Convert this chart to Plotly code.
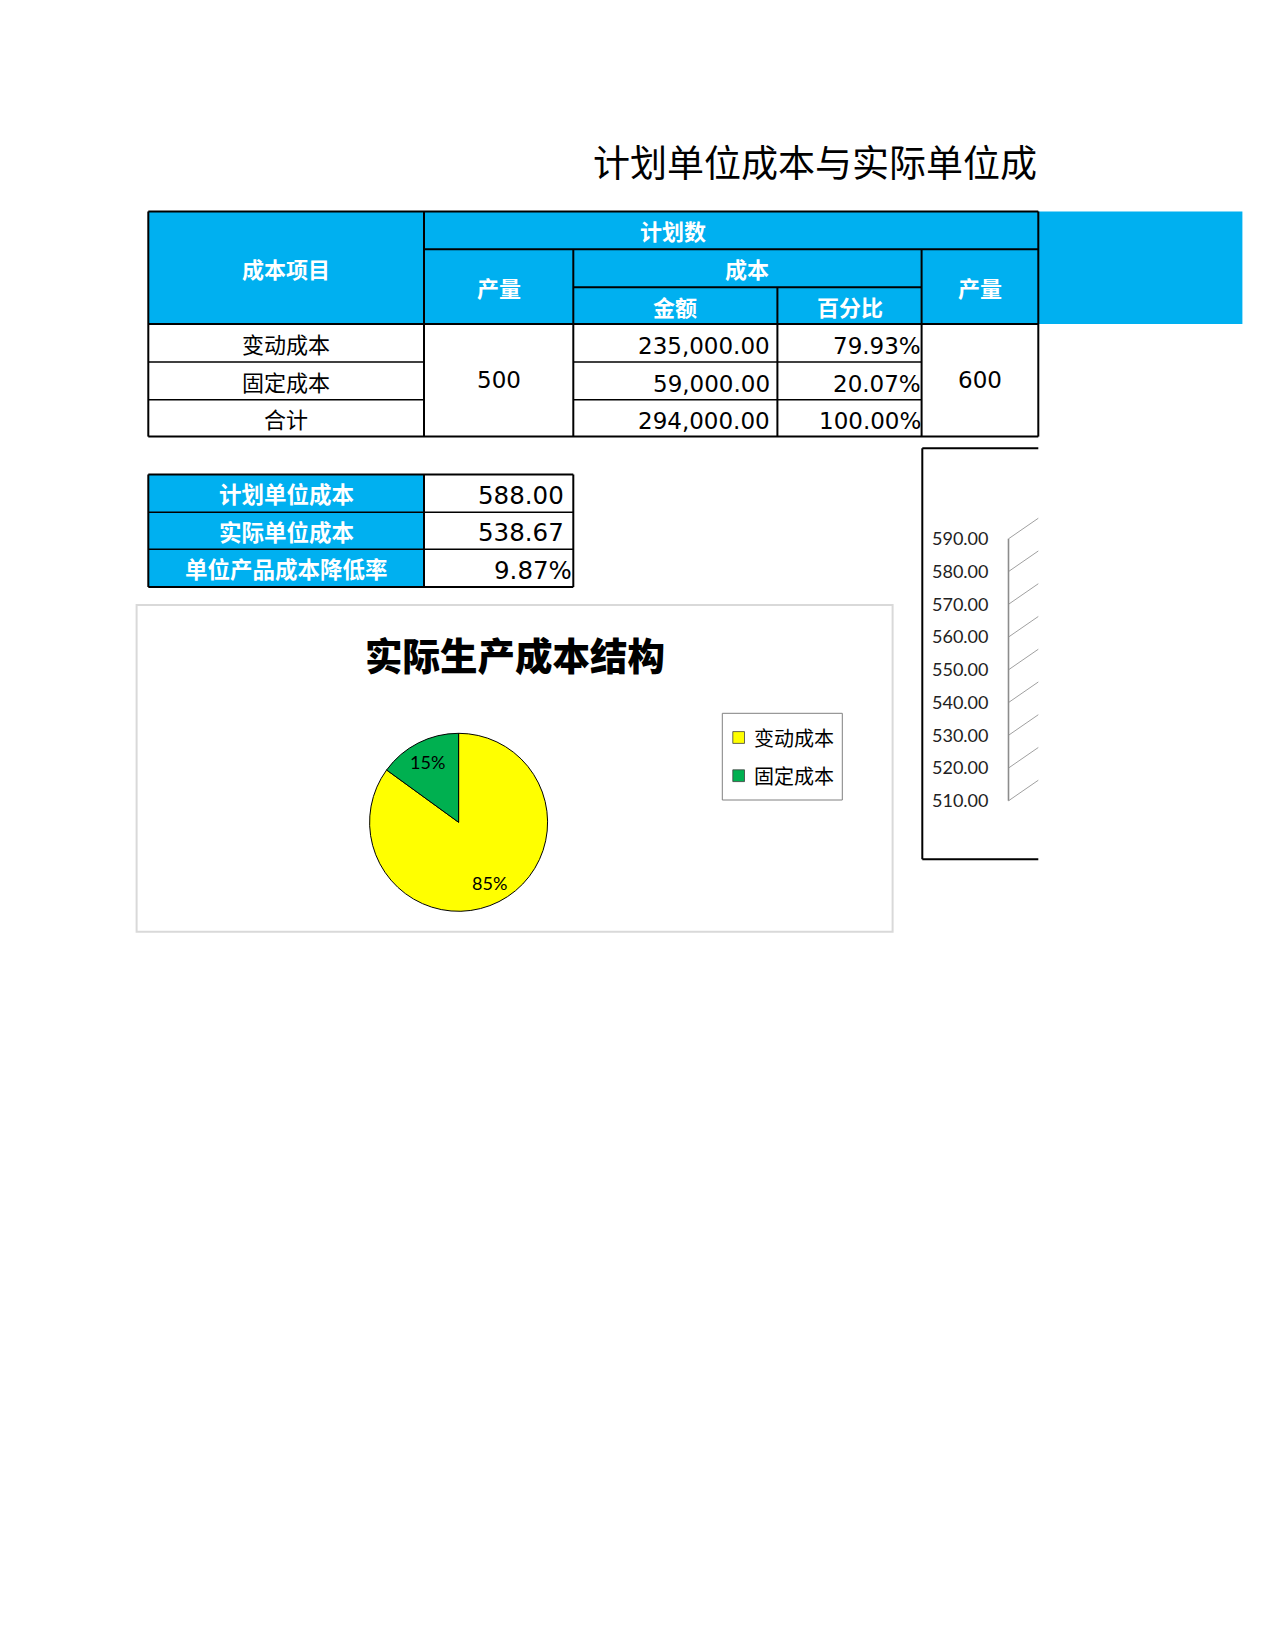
import math
import plotly.graph_objects as go

W, H = 1275, 1650

# ---------------- data ----------------
title_text = "计划单位成本与实际单位成"
hdr_item = "成本项目"
hdr_plan = "计划数"
hdr_output = "产量"
hdr_cost = "成本"
hdr_amount = "金额"
hdr_pct = "百分比"
cost_items = ["变动成本", "固定成本", "合计"]
plan_output = 500
actual_output = 600
plan_amounts = [235000.00, 59000.00, 294000.00]
plan_pcts = [0.7993, 0.2007, 1.0000]
unit_labels = ["计划单位成本", "实际单位成本", "单位产品成本降低率"]
unit_values = [588.00, 538.67]
reduction_rate = 0.0987
pie_title = "实际生产成本结构"
pie_labels = ["变动成本", "固定成本"]
actual_costs = [274722, 48480]
pie_colors = ["#FFFF00", "#00B050"]
axis_ticks = [510, 520, 530, 540, 550, 560, 570, 580, 590]

# ---------------- layout constants (pixels) ----------------
BLUE = "#00B0F0"
COLS = [148.3, 424.0, 573.3, 777.4, 921.6, 1038.3]
ROWS = [211.5, 249.3, 287.2, 324.0, 362.0, 399.8, 436.6]
BLUE_RIGHT = 1242.4
T2_COLS = [148.3, 424.0, 573.3]
T2_ROWS = [474.5, 512.3, 549.2, 587.0]
CJK = "Noto Sans CJK SC"
NUM = "DejaVu Sans, Noto Sans CJK SC"

shapes = []
annotations = []


def rect(x0, y0, x1, y1, fill=None, line=None, lw=0):
    shapes.append(dict(type="rect", xref="x", yref="y", x0=x0, y0=y0, x1=x1, y1=y1,
                       fillcolor=fill or "rgba(0,0,0,0)",
                       line=dict(color=line or "rgba(0,0,0,0)", width=lw), layer="below"))


def line(x0, y0, x1, y1, w=2, color="#000000"):
    shapes.append(dict(type="line", xref="x", yref="y", x0=x0, y0=y0, x1=x1, y1=y1,
                       line=dict(color=color, width=w), layer="above"))


def text(x, y, s, size, color="#000000", family=CJK, weight="normal", anchor="center"):
    annotations.append(dict(x=x, y=y, xref="x", yref="y", text=s, showarrow=False,
                            xanchor=anchor, yanchor="middle",
                            font=dict(family=family, size=size, color=color, weight=weight)))


# ---------------- title ----------------
text(591, 161, title_text, 37, anchor="left")

# ---------------- table 1 ----------------
rect(COLS[0], ROWS[0], BLUE_RIGHT, ROWS[3], fill=BLUE)
hw = dict(size=22, color="#FFFFFF", weight="bold")
text((COLS[0] + COLS[1]) / 2, (ROWS[0] + ROWS[3]) / 2, hdr_item, **hw)
text((COLS[1] + COLS[4]) / 2, (ROWS[0] + ROWS[1]) / 2, hdr_plan, **hw)
text((COLS[1] + COLS[2]) / 2, (ROWS[1] + ROWS[3]) / 2, hdr_output, **hw)
text((COLS[2] + COLS[4]) / 2, (ROWS[1] + ROWS[2]) / 2, hdr_cost, **hw)
text((COLS[2] + COLS[3]) / 2, (ROWS[2] + ROWS[3]) / 2, hdr_amount, **hw)
text((COLS[3] + COLS[4]) / 2, (ROWS[2] + ROWS[3]) / 2, hdr_pct, **hw)
text((COLS[4] + COLS[5]) / 2, (ROWS[1] + ROWS[3]) / 2, hdr_output, **hw)

for i, name in enumerate(cost_items):
    yc = (ROWS[3 + i] + ROWS[4 + i]) / 2
    text((COLS[0] + COLS[1]) / 2, yc, name, 22)
    text(COLS[3] - 5.5, yc + 3, f"{plan_amounts[i]:,.2f}", 23, family=NUM, anchor="right")
    text(COLS[4] + 1.5, yc + 3, f"{plan_pcts[i]:.2%}", 23, family=NUM, anchor="right")
text((COLS[1] + COLS[2]) / 2, (ROWS[3] + ROWS[6]) / 2, str(plan_output), 23, family=NUM)
text((COLS[4] + COLS[5]) / 2, (ROWS[3] + ROWS[6]) / 2, str(actual_output), 23, family=NUM)

# table 1 grid
line(COLS[0], ROWS[0], COLS[5], ROWS[0])
line(COLS[1], ROWS[1], COLS[5], ROWS[1])
line(COLS[2], ROWS[2], COLS[4], ROWS[2])
line(COLS[0], ROWS[3], COLS[5], ROWS[3])
for r in (ROWS[4], ROWS[5]):
    line(COLS[0], r, COLS[1], r, 1.6)
    line(COLS[2], r, COLS[4], r, 1.6)
line(COLS[0], ROWS[6], COLS[5], ROWS[6])
line(COLS[0], ROWS[0], COLS[0], ROWS[6])
line(COLS[1], ROWS[0], COLS[1], ROWS[6])
line(COLS[2], ROWS[1], COLS[2], ROWS[6])
line(COLS[3], ROWS[2], COLS[3], ROWS[6])
line(COLS[4], ROWS[1], COLS[4], ROWS[6])
line(COLS[5], ROWS[0], COLS[5], ROWS[6])

# ---------------- table 2 ----------------
rect(T2_COLS[0], T2_ROWS[0], T2_COLS[1], T2_ROWS[3], fill=BLUE)
t2_vals = [f"{v:.2f}" for v in unit_values] + [f"{reduction_rate:.2%}"]
t2_pad = [7, 7, -1]
for i, lab in enumerate(unit_labels):
    yc = (T2_ROWS[i] + T2_ROWS[i + 1]) / 2
    text((T2_COLS[0] + T2_COLS[1]) / 2, yc, lab, 22.5, color="#FFFFFF", weight="bold")
    text(T2_COLS[2] - t2_pad[i], yc + 2, t2_vals[i], 24.5, family=NUM, anchor="right")
for r in T2_ROWS:
    line(T2_COLS[0], r, T2_COLS[2], r, 2 if r in (T2_ROWS[0], T2_ROWS[3]) else 1.6)
for c in T2_COLS:
    line(c, T2_ROWS[0], c, T2_ROWS[3])

# ---------------- pie chart box ----------------
PIE_BOX = (136.6, 605.0, 892.6, 931.7)
shapes.append(dict(type="rect", xref="x", yref="y", x0=PIE_BOX[0], y0=PIE_BOX[1],
                   x1=PIE_BOX[2], y1=PIE_BOX[3], fillcolor="rgba(0,0,0,0)",
                   line=dict(color="#D9D9D9", width=2), layer="below"))
text((PIE_BOX[0] + PIE_BOX[2]) / 2, 653.5, pie_title, 37.5, weight=900)

# manual legend
LEG = (722.3, 713.3, 842.3, 800.0)
shapes.append(dict(type="rect", xref="x", yref="y", x0=LEG[0], y0=LEG[1], x1=LEG[2], y1=LEG[3],
                   fillcolor="#FFFFFF", line=dict(color="#808080", width=1), layer="above"))
for i, (lab, col) in enumerate(zip(pie_labels, pie_colors)):
    yc = 737.5 + i * 38.2
    shapes.append(dict(type="rect", xref="x", yref="y", x0=732.8, y0=yc - 5.9, x1=744.5, y1=yc + 5.9,
                       fillcolor=col, line=dict(color="#404040", width=0.8), layer="above"))
    text(751.5, yc, lab, 20, anchor="left")

# ---------------- right (3D) chart box ----------------
BOX3 = (922.3, 448.3, 1038.3, 859.3)
line(BOX3[0], BOX3[1], BOX3[0], BOX3[3])
line(BOX3[0], BOX3[1], BOX3[2], BOX3[1])
line(BOX3[0], BOX3[3], BOX3[2], BOX3[3])

fig = go.Figure()

# invisible anchor trace for pixel axes
fig.add_trace(go.Scatter(x=[0, W], y=[0, H], mode="markers", marker=dict(opacity=0),
                         hoverinfo="skip", showlegend=False, xaxis="x", yaxis="y"))

# pie
PC = (458.6, 822.3)
PR = 89.0
fig.add_trace(go.Pie(
    labels=pie_labels, values=actual_costs, sort=False, direction="clockwise", rotation=0,
    marker=dict(colors=pie_colors, line=dict(color="#000000", width=1)),
    textinfo="none",
    domain=dict(x=[(PC[0] - PR) / W, (PC[0] + PR) / W], y=[1 - (PC[1] + PR) / H, 1 - (PC[1] - PR) / H]),
    hoverinfo="skip", showlegend=False,
))
# percentage labels placed along each slice bisector (Excel-style best fit)
total = sum(actual_costs)
cum = 0.0
for v in actual_costs:
    frac = v / total
    mid = 2 * math.pi * (cum + frac / 2)
    cum += frac
    rr = 0.76 * PR
    text(PC[0] + rr * math.sin(mid), PC[1] - rr * math.cos(mid), f"{frac:.0%}", 18, family="Lato")

# 3D wall gridlines on a value axis
PX_PER_UNIT = (799.3 - 537.3) / (axis_ticks[-1] - axis_ticks[0])
DEPTH_X, DEPTH_Y = 32.3, 22.3 / PX_PER_UNIT
gx, gy = [], []
for v in axis_ticks:
    gx += [0, DEPTH_X, None]
    gy += [v, v + DEPTH_Y, None]
fig.add_trace(go.Scatter(x=gx, y=gy, mode="lines", line=dict(color="#A0A0A0", width=1),
                         hoverinfo="skip", showlegend=False, xaxis="x2", yaxis="y2"))
fig.add_trace(go.Scatter(x=[0, 0], y=[axis_ticks[0], axis_ticks[-1]], mode="lines",
                         line=dict(color="#8C8C8C", width=1.6),
                         hoverinfo="skip", showlegend=False, xaxis="x2", yaxis="y2"))

Y_LO, Y_HI = 505, 600
BASE_PX = 800.8
y_lo_px = BASE_PX + (axis_ticks[0] - Y_LO) * PX_PER_UNIT
y_hi_px = BASE_PX - (Y_HI - axis_ticks[0]) * PX_PER_UNIT
X_LO = -2
x0_px = 1008.5 + X_LO

fig.update_layout(
    width=W, height=H, margin=dict(l=0, r=0, t=0, b=0, pad=0),
    paper_bgcolor="#FFFFFF", plot_bgcolor="rgba(0,0,0,0)",
    showlegend=False,
    xaxis=dict(range=[0, W], domain=[0, 1], visible=False, fixedrange=True),
    yaxis=dict(range=[H, 0], domain=[0, 1], visible=False, fixedrange=True),
    xaxis2=dict(range=[X_LO, 1038.3 - 1008.5], domain=[x0_px / W, 1038.3 / W], anchor="y2",
                visible=False, fixedrange=True),
    yaxis2=dict(range=[Y_LO, Y_HI], domain=[1 - y_lo_px / H, 1 - y_hi_px / H], anchor="x2",
                tickvals=axis_ticks, ticktext=[f"{v:.2f}" for v in axis_ticks],
                showgrid=False, zeroline=False, showline=False, ticks="",
                ticklabelstandoff=17,
                tickfont=dict(family="Lato", size=18, color="#222222"), fixedrange=True),
    shapes=shapes, annotations=annotations,
)

fig.write_html("out.html", config={"displayModeBar": False},
               post_script="document.body.style.margin='0';")
